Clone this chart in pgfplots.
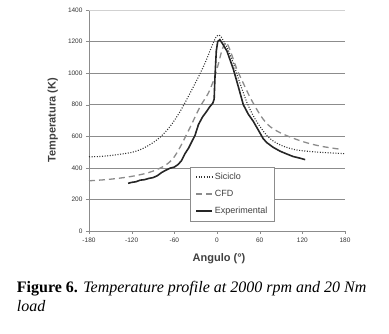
\documentclass[border=0pt]{standalone}
\usepackage{pgfplots}
\pgfplotsset{compat=1.18}
\usepackage{fontspec}
\setmainfont{Liberation Sans}
\newfontfamily\capfont{Liberation Serif}
\definecolor{gridc}{HTML}{8C8C8C}
\definecolor{txt}{HTML}{333333}
\begin{document}
\begin{tikzpicture}
\useasboundingbox (-89pt,-103pt) rectangle (300pt,231pt);
\begin{axis}[
  at={(0,0)}, anchor=south west,
  scale only axis, width=256pt, height=221pt,
  xmin=-180, xmax=180, ymin=0, ymax=1400,
  axis lines=left, axis line style={gridc, -},
  xtick={-180,-120,...,180}, ytick={0,200,...,1200},
  extra y ticks={1400}, extra y tick style={grid style={black!18, line width=0.8pt}},
  ymajorgrids, grid style={gridc, line width=0.6pt},
  tick align=outside, major tick length=3pt,
  tick style={gridc},
  ticklabel style={font=\fontsize{6.5}{7}\selectfont, text=txt},
  /pgf/number format/assume math mode=true,
  /pgf/number format/1000 sep={},
  xlabel={Angulo (°)}, ylabel={Temperatura (K)},
  label style={font=\fontsize{11}{12}\bfseries\selectfont, text=black!75},
  xlabel style={at={(axis description cs:0.508,-0.127)}, anchor=center},
  ylabel style={at={(axis description cs:-0.141,0.502)}, anchor=center, rotate=0},
  legend style={at={(rel axis cs:0.395,0.045)}, anchor=south west, draw=gridc, fill=white,
    font=\fontsize{9}{10}\selectfont, text=black!75, row sep=5pt, inner xsep=5pt, inner ysep=4pt,
    /tikz/every even column/.append style={column sep=0pt}},
  legend cell align=left,
  legend image code/.code={\draw[#1] (0pt,0pt) -- (16pt,0pt);},
  clip=false,
]
\addplot[color=black!80, line width=1.1pt, dash pattern=on 1pt off 1.6pt, smooth] coordinates {
(-180,470) (-165,472) (-150,478) (-135,487) (-120,498) (-108,515) (-94,548) (-80,594)
(-66,662) (-52,756) (-38,872) (-26,977) (-17,1062) (-10,1140) (-5,1195) (-1,1232)
(2,1242) (5,1236) (9,1205) (14,1165) (23,1062) (32,940) (42,815) (51,730) (60,665)
(70,605) (79,570) (89,545) (98,530) (107,518) (117,510) (135,502) (154,496) (180,490)};
\addlegendentry{Siciclo}
\addplot[color=black!45, line width=1.3pt, dash pattern=on 6pt off 4pt, smooth] coordinates {
(-180,318) (-160,324) (-140,333) (-120,346) (-100,365) (-85,388) (-72,418) (-62,458)
(-52,530) (-38,655) (-24,785) (-12,875) (-4,965) (2,1060) (6,1130) (10,1180) (13,1195)
(18,1150) (28,1025) (37,936) (46,851) (56,770) (65,708) (75,660) (89,622) (107,588)
(126,559) (145,538) (164,524) (175,517)};
\addlegendentry{CFD}
\addplot[color=black!85, line width=1.6pt] coordinates {
(-125,302) (-120,308) (-114,312) (-108,322) (-102,325) (-96,333) (-90,338) (-84,350)
(-78,370) (-72,385) (-66,398) (-60,405) (-55,420) (-50,445) (-45,490) (-40,525)
(-35,570) (-31,605) (-26,675) (-20,725) (-15,755) (-10,788) (-6,809) (-4,835)
(-3,960) (-1,1140) (1,1200) (4,1212) (8,1185) (14,1140) (23,1025) (30,914) (37,800)
(44,740) (51,695) (58,640) (65,585) (70,560) (79,530) (89,505) (98,488) (107,472)
(117,461) (124,452)};
\addlegendentry{Experimental}
\end{axis}
\node[anchor=base west, inner sep=0pt, font=\capfont\fontsize{16}{18}\selectfont] at (-72.3pt,-62pt)
  {\textbf{Figure 6.} \textit{Temperature profile at 2000 rpm and 20 Nm}};
\node[anchor=base west, inner sep=0pt, font=\capfont\fontsize{16}{18}\selectfont] at (-72.3pt,-80.7pt)
  {\textit{load}};
\end{tikzpicture}
\end{document}
